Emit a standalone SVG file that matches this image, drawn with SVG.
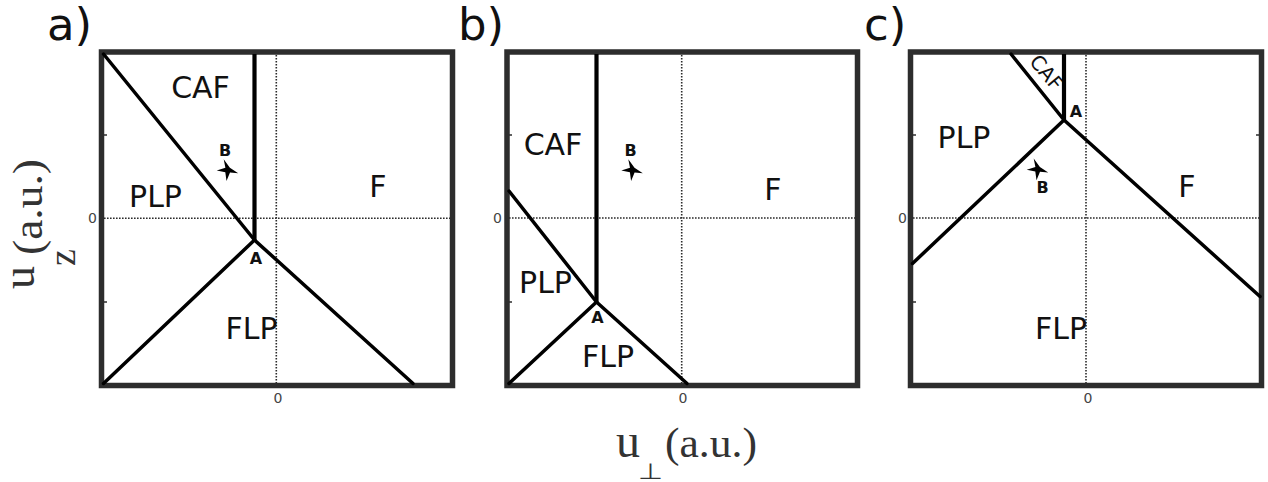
<svg xmlns="http://www.w3.org/2000/svg" width="1268" height="482" viewBox="0 0 1268 482">
<style>
.frame{fill:none;stroke:#2d2d2d;stroke-width:5.5}
.dot{fill:none;stroke:#2a2a2a;stroke-width:1.6;stroke-dasharray:1.6 1.4}
.bd{fill:none;stroke:#000;stroke-width:3.5;stroke-linecap:round;stroke-linejoin:round}
.vb{fill:none;stroke:#000;stroke-width:4.2}
.tick{stroke:#2d2d2d;stroke-width:1.5}
.reg{font-family:"DejaVu Sans",sans-serif;font-size:30px;fill:#111;text-anchor:middle}
.pt{font-family:"DejaVu Sans",sans-serif;font-size:16px;font-weight:bold;fill:#111;text-anchor:middle}
.num{font-family:"DejaVu Sans",sans-serif;font-size:14px;fill:#444}
.pan{font-family:"DejaVu Sans",sans-serif;font-size:45px;fill:#111}
.ax{font-family:"Liberation Serif",serif;fill:#333}
</style>
<defs>
<path id="star" d="M-4,-10.7 L2.2,-2.3 L10.5,3.3 L2.3,2.4 L-1.2,11 L-2.4,2.2 L-11,0.5 L-2.3,-2.3 Z" fill="#000"/>
</defs>

<g id="panel-a">
<line class="dot" x1="104" y1="218.3" x2="450" y2="218.3"/>
<line class="dot" x1="276.3" y1="55" x2="276.3" y2="383"/>
<line class="tick" x1="104" y1="135" x2="107" y2="135"/>
<line class="tick" x1="104" y1="302" x2="107" y2="302"/>
<rect class="frame" x="101.5" y="52" width="351" height="333.5"/>
<text class="pan" x="47" y="40">a)</text>
<text class="num" x="97" y="223" text-anchor="end">0</text>
<text class="num" x="278" y="403" text-anchor="middle">0</text>
<text class="reg" x="200.5" y="98">CAF</text>
<text class="reg" x="155.5" y="207">PLP</text>
<text class="reg" x="378" y="197">F</text>
<text class="reg" x="251.5" y="339">FLP</text>
<text class="pt" x="256" y="264">A</text>
<text class="pt" x="225" y="156">B</text>
<use href="#star" x="227.7" y="170"/>
</g>

<g id="panel-b">
<line class="dot" x1="509" y1="218" x2="855" y2="218"/>
<line class="dot" x1="681.7" y1="55" x2="681.7" y2="383"/>
<line class="tick" x1="509" y1="135" x2="512" y2="135"/>
<line class="tick" x1="509" y1="302" x2="512" y2="302"/>
<rect class="frame" x="507" y="52" width="350.5" height="333.5"/>
<text class="pan" x="458" y="40">b)</text>
<text class="num" x="502" y="223" text-anchor="end">0</text>
<text class="num" x="683" y="403" text-anchor="middle">0</text>
<text class="reg" x="553" y="155">CAF</text>
<text class="reg" x="545.5" y="293">PLP</text>
<text class="reg" x="773" y="200">F</text>
<text class="reg" x="608" y="367">FLP</text>
<text class="pt" x="597.5" y="323">A</text>
<text class="pt" x="630.5" y="156">B</text>
<use href="#star" x="632.3" y="170"/>
</g>

<g id="panel-c">
<line class="dot" x1="913" y1="218" x2="1259" y2="218"/>
<line class="dot" x1="1086" y1="55" x2="1086" y2="383"/>
<line class="tick" x1="913" y1="135" x2="916" y2="135"/>
<line class="tick" x1="913" y1="302" x2="916" y2="302"/>
<line class="tick" x1="1256" y1="135" x2="1259" y2="135"/>
<rect class="frame" x="910.5" y="52" width="351" height="333.5"/>
<text class="pan" x="864" y="40">c)</text>
<text class="num" x="907" y="223" text-anchor="end">0</text>
<text class="num" x="1088" y="403" text-anchor="middle">0</text>
<text font-family="DejaVu Sans, sans-serif" font-size="20" fill="#111" text-anchor="middle" transform="translate(1041,77) rotate(50)">CAF</text>
<text class="reg" x="964" y="148">PLP</text>
<text class="reg" x="1187" y="197">F</text>
<text class="reg" x="1061" y="339">FLP</text>
<text class="pt" x="1076" y="117" font-size="19" fill="#333">A</text>
<text class="pt" x="1042.5" y="193">B</text>
<use href="#star" x="1037.7" y="169.3"/>
</g>

<g id="connectors">
<line class="vb" x1="254.5" y1="54" x2="254.5" y2="240"/>
<polyline class="bd" points="103.5,54 254.5,240 103.5,383.5"/>
<line class="bd" x1="254.5" y1="240" x2="413" y2="383.5"/>

<line class="vb" x1="596.5" y1="54" x2="596.5" y2="302"/>
<polyline class="bd" points="509,191 596.5,302 509,383.5"/>
<line class="bd" x1="596.5" y1="302" x2="687" y2="383.5"/>

<line class="vb" x1="1064" y1="54" x2="1064" y2="120"/>
<polyline class="bd" points="1011,54 1064,120 912.5,263.5"/>
<line class="bd" x1="1064" y1="120" x2="1260" y2="296.5"/>
</g>

<g id="axis-labels">
<g transform="rotate(-90)">
<text class="ax" x="-289" y="34" font-size="46">u</text>
<text class="ax" x="-266" y="75" font-size="38">z</text>
<text class="ax" x="-255" y="42" font-size="43" textLength="96" lengthAdjust="spacingAndGlyphs">(a.u.)</text>
</g>
<text class="ax" x="616" y="457" font-size="48">u</text>
<text font-family="DejaVu Sans, sans-serif" font-size="22" fill="#333" x="638" y="479" textLength="25" lengthAdjust="spacingAndGlyphs">⊥</text>
<text class="ax" x="665" y="457" font-size="43" textLength="92" lengthAdjust="spacingAndGlyphs">(a.u.)</text>
</g>
</svg>
